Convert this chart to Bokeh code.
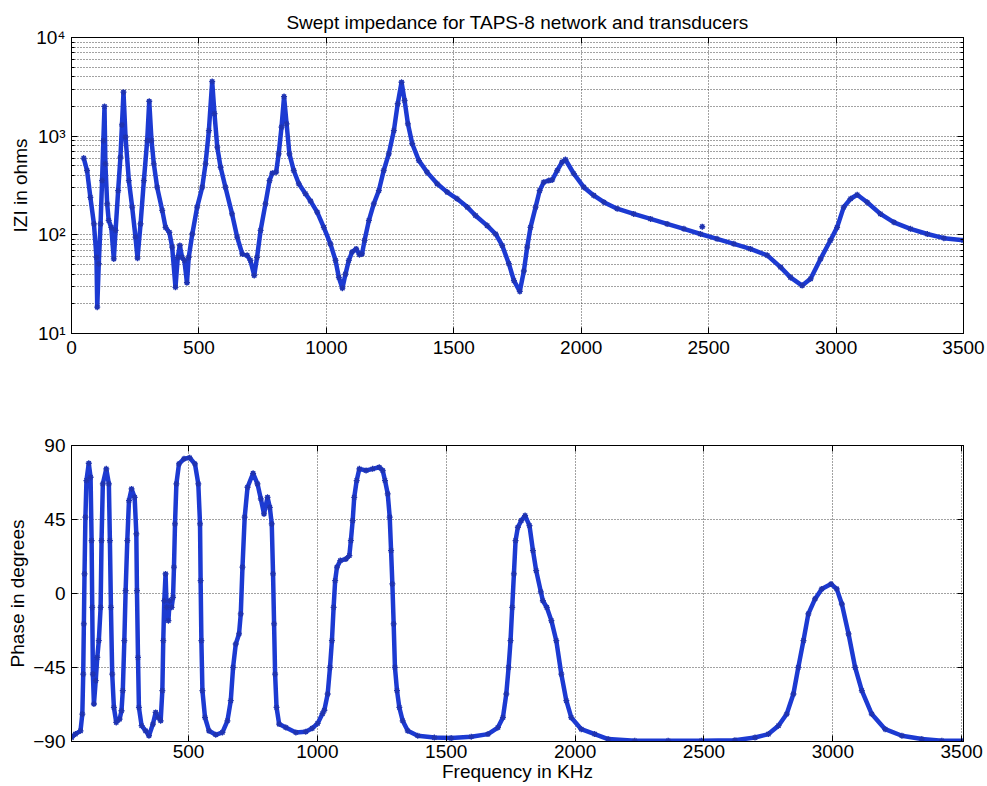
from bokeh.plotting import figure
from bokeh.layouts import column
from bokeh.models import Range1d, FixedTicker, LinearAxis, LogAxis, ColumnDataSource
from bokeh.embed import file_html
from bokeh.resources import INLINE

# ---------------- data ----------------
mag_freq = [48, 61, 74, 88, 98, 101, 107, 114, 120, 125, 129.5, 133, 140, 146, 156, 166, 173,
            183, 192, 198, 204, 212, 225, 238, 251, 259, 271, 284, 297, 305, 314, 323, 336,
            356, 369, 384, 395, 408, 417, 425, 434, 443, 453, 460, 474, 493, 513, 526, 539,
            552, 561, 572, 585, 604, 630, 650, 670, 689, 702, 717, 728, 742, 761, 777, 788,
            803, 813, 824, 834, 844, 855, 872, 892, 918, 938, 964, 990, 1016, 1036, 1049,
            1063, 1075, 1088, 1101, 1117, 1130, 1140, 1150, 1167, 1186, 1206, 1225, 1245,
            1265, 1280, 1295, 1307, 1320, 1337, 1363, 1395, 1435, 1474, 1513, 1553, 1585,
            1631, 1664, 1690, 1716, 1736, 1759, 1775, 1788, 1801, 1821, 1837, 1853, 1873,
            1886, 1906, 1925, 1938, 1971, 2010, 2049, 2089, 2141, 2206, 2272, 2337, 2403,
            2468, 2533, 2599, 2664, 2730, 2782, 2821, 2867, 2900, 2939, 2978, 3004, 3030,
            3057, 3083, 3122, 3174, 3227, 3292, 3358, 3423, 3500]
mag_ohms = [600, 449, 240, 129, 59, 18.5, 51, 129, 355, 900, 2000, 525, 206, 140, 119, 57, 111,
            281, 612, 1300, 2790, 977, 355, 191, 95, 58, 129, 355, 903, 2260, 903, 525, 304,
            177, 119, 106, 75, 29.4, 59, 78, 59, 55, 32.7, 59, 102, 191, 304, 525, 1140,
            3580, 1690, 773, 484, 304, 163, 95, 64, 62, 55, 38.7, 59, 111, 206, 355, 422,
            432, 662, 1233, 2520, 1333, 662, 449, 329, 261, 220, 170, 119, 81, 55, 37,
            28.8, 40, 55, 67, 72, 63, 64, 88, 140, 206, 281, 449, 662,
            1140, 2130, 3520, 2300, 1333, 838, 566, 432, 329, 271, 232, 191, 157,
            124, 102, 78, 51, 34.4, 26.7, 43, 75, 119, 191, 281, 342, 355,
            360, 449, 545, 580, 416, 304, 251, 214, 184, 163, 145, 129, 115,
            102, 91, 81, 72, 62, 47, 37, 30.6, 35.8, 57, 88, 119, 191,
            232, 255, 214, 163, 134, 115, 102, 92.5, 88]
mag_stray_freq = [2475]
mag_stray_ohms = [121]

phase_freq = [46, 61, 81, 88, 91.5, 94, 96.5, 100, 104, 113, 120, 124, 126.5, 129, 133, 140,
              146, 152, 159, 162.6, 167.6, 181, 191, 195, 199, 204, 210.5, 219.6, 232.6, 240,
              245, 251, 256, 262.5, 269, 279, 291, 297.5, 300, 304, 307.6, 318, 333.6, 346.5,
              362, 372.5, 383, 392, 398.5, 402, 406, 411, 415, 422, 427, 434.6, 440, 443.6,
              447.6, 453, 463, 482.5, 504.6, 525, 538, 544.7, 547, 550, 554, 564, 579.6,
              605.7, 631.7, 651, 664, 673, 683.4, 696, 702.8, 709.4, 718, 729, 750.6, 767.6,
              780.5, 793, 806.6, 815.5, 823, 828, 832, 836, 841.6, 851.7, 877.7, 916.6, 955,
              980, 1001, 1020, 1027, 1040, 1049, 1056.5, 1063, 1069, 1076, 1089, 1111, 1124,
              1130, 1137, 1143, 1152.5, 1163, 1189, 1214.6, 1240, 1253.5, 1262.5, 1273,
              1280.7, 1286, 1291, 1296, 1301, 1309, 1318, 1331, 1350.7, 1389.5, 1454, 1519,
              1597, 1662, 1700.5, 1720, 1733, 1742, 1749.5, 1756, 1762.6, 1769, 1778, 1791,
              1806, 1823, 1836.5, 1849, 1867, 1875, 1890, 1908, 1927, 1946.5, 1966, 1985,
              2024, 2076, 2128, 2231.5, 2361, 2490, 2620, 2698, 2750, 2789, 2821, 2847, 2866,
              2886, 2905, 2931, 2957, 2993, 3015, 3035, 3061, 3086.5, 3112.5, 3151, 3203,
              3268, 3345.6, 3423, 3507]
phase_deg = [-87.6, -85.5, -83.5, -73.3, -49, -18.5, 11.9, 46.4, 68.7, 79.2, 70.7, 32.2, -8.4,
             -49, -67.2, -53, -38.9, -28.7, -8.4, 32.2, 66.7, 75.8, 66.7, 32.2, -8.4, -49,
             -69.3, -78.4, -76.4, -71.3, -59.1, -28.7, 1.7, 32.2, 56.5, 63.6, 58.5, 36.2, 1.7,
             -38.9, -69.3, -80.4, -83.5, -86.5, -79.4, -72.3, -75.4, -77.4, -59.1, -28.7,
             -4.4, 11.9, -8.4, -16.5, -4.4, -8.4, -2.3, 16, 42.3, 66.7, 78.8, 81.9, 82.5,
             78.8, 66.7, 42.3, 7.8, -28.7, -59.1, -75.4, -83.5, -85.9, -84.5, -77.4, -65.2,
             -44.9, -30.7, -24.6, -12.4, 16, 46.4, 64.6, 73.1, 66.7, 57.6, 48.4, 58.5, 52.4,
             42.3, 11.9, -18.5, -49, -69.3, -79.4, -81.5, -84.5, -84, -82, -79, -73, -71,
             -61.1, -44.9, -28.7, -8.4, 7.8, 16, 20, 21, 23, 32.2, 44.3, 58.5, 68.7, 75.8,
             74.8, 75.8, 76.8, 74.8, 68.7, 60.6, 46.4, 26.1, 5.8, -18.5, -44.9, -59.1, -69.3,
             -77.4, -83.5, -86.5, -87.6, -87.9, -87.1, -85.5, -81.5, -75.4, -61.1, -44.9,
             -28.7, -8.4, 11.9, 32.2, 40.3, 44.3, 47.4, 41.3, 26.1, 13.9, 1, -4.4, -8.4,
             -16.5, -28.7, -49, -65.2, -75.4, -82.5, -85.5, -88.5, -89.6, -89.6, -89.6,
             -89.2, -87.6, -85.5, -80.4, -73.3, -61.1, -44.9, -28.7, -12.4, -3.3, 2.8, 5.8,
             2.8, -6.4, -24.6, -44.9, -59.1, -73.3, -82.5, -86.5, -88.5, -89.6, -89.6]

x_ticks = [0, 500, 1000, 1500, 2000, 2500, 3000, 3500]
mag_ticks = [10, 100, 1000, 10000]
mag_tick_labels = ["10\u00b9", "10\u00b2", "10\u00b3", "10\u2074"]
mag_minor_ticks = [m * d for d in (10, 100, 1000) for m in range(2, 10)]
phase_ticks = [-90, -45, 0, 45, 90]

title_text = "Swept impedance for TAPS-8 network and transducers"
mag_label = "IZI in ohms"
phase_label = "Phase in degrees"
freq_label = "Frequency in KHz"

# ---------------- style ----------------
FONT = "Liberation Sans"
FS = "19px"
BAND = "#1c3ad2"
MARK = "#1f33b0"
GRID = "#444444"
DASH = "1 2"


def style_axis(ax, labels=True, standoff=4):
    ax.major_tick_in = 6
    ax.major_tick_out = 0
    ax.minor_tick_in = 3
    ax.minor_tick_out = 0
    ax.axis_line_color = "black"
    ax.major_tick_line_color = "black"
    ax.minor_tick_line_color = "black"
    ax.major_label_text_font = FONT
    ax.axis_label_text_font = FONT
    ax.axis_label_text_font_size = FS
    ax.axis_label_text_font_style = "normal"
    ax.axis_label_text_color = "black"
    if labels:
        ax.major_label_text_color = "black"
        ax.major_label_text_font_size = FS
        ax.major_label_standoff = standoff
    else:
        # tick marks only: labels are not drawn
        ax.major_label_text_color = None
        ax.major_label_text_font_size = "1px"
        ax.major_label_standoff = 0


def style_fig(p):
    p.outline_line_color = "black"
    p.outline_line_width = 1
    p.background_fill_color = "white"
    p.border_fill_color = "white"
    for g in (p.xgrid[0], p.ygrid[0]):
        g.grid_line_color = GRID
        g.grid_line_dash = DASH
        g.grid_line_width = 1


# ---------------- top: magnitude ----------------
src_mag = ColumnDataSource(dict(f=mag_freq, z=mag_ohms))
src_stray = ColumnDataSource(dict(f=mag_stray_freq, z=mag_stray_ohms))

p1 = figure(width=987, height=400, y_axis_type="log",
            x_range=Range1d(0, 3500), y_range=Range1d(10, 10000),
            output_backend="svg", toolbar_location=None, title=title_text,
            min_border_left=71, min_border_right=24, min_border_top=37, min_border_bottom=67)
p1.title.align = "center"
p1.title.text_font = FONT
p1.title.text_font_size = FS
p1.title.text_font_style = "normal"
p1.title.text_color = "black"
p1.title.standoff = 10
style_fig(p1)

p1.xaxis.ticker = FixedTicker(ticks=x_ticks)
p1.yaxis.ticker = FixedTicker(ticks=mag_ticks, minor_ticks=mag_minor_ticks)
p1.yaxis.major_label_overrides = dict(zip(mag_ticks, mag_tick_labels))
p1.yaxis.axis_label = mag_label
p1.yaxis.axis_label_standoff = 2
style_axis(p1.xaxis[0], standoff=7)
style_axis(p1.yaxis[0], standoff=6)
p1.xaxis.minor_tick_line_color = None
p1.ygrid.minor_grid_line_color = GRID
p1.ygrid.minor_grid_line_dash = DASH

ax_top1 = LinearAxis(ticker=FixedTicker(ticks=x_ticks))
style_axis(ax_top1, labels=False)
ax_top1.minor_tick_line_color = None
p1.add_layout(ax_top1, "above")
ax_right1 = LogAxis(ticker=FixedTicker(ticks=mag_ticks, minor_ticks=mag_minor_ticks))
style_axis(ax_right1, labels=False)
p1.add_layout(ax_right1, "right")

p1.line("f", "z", source=src_mag, line_color=BAND, line_width=4.5, line_join="round")
p1.scatter("f", "z", source=src_mag, marker="asterisk", size=6, line_color=MARK, line_width=1.3)
p1.scatter("f", "z", source=src_stray, marker="asterisk", size=6, line_color=MARK, line_width=1.5)

# ---------------- bottom: phase ----------------
src_ph = ColumnDataSource(dict(f=phase_freq, ph=phase_deg))

p2 = figure(width=987, height=386,
            x_range=Range1d(46, 3507), y_range=Range1d(-90, 90),
            output_backend="svg", toolbar_location=None,
            min_border_left=71, min_border_right=24, min_border_top=45, min_border_bottom=45)
style_fig(p2)
p2.xaxis.ticker = FixedTicker(ticks=x_ticks)
p2.yaxis.ticker = FixedTicker(ticks=phase_ticks)
p2.xaxis.axis_label = freq_label
p2.yaxis.axis_label = phase_label
p2.xaxis.axis_label_standoff = 0
p2.yaxis.axis_label_standoff = 2
style_axis(p2.xaxis[0], standoff=3)
style_axis(p2.yaxis[0], standoff=6)
p2.xaxis.minor_tick_line_color = None
p2.yaxis.minor_tick_line_color = None

ax_top2 = LinearAxis(ticker=FixedTicker(ticks=x_ticks))
style_axis(ax_top2, labels=False)
ax_top2.minor_tick_line_color = None
p2.add_layout(ax_top2, "above")
ax_right2 = LinearAxis(ticker=FixedTicker(ticks=phase_ticks))
style_axis(ax_right2, labels=False)
ax_right2.minor_tick_line_color = None
p2.add_layout(ax_right2, "right")

p2.line("f", "ph", source=src_ph, line_color=BAND, line_width=4.5, line_join="round")
p2.scatter("f", "ph", source=src_ph, marker="asterisk", size=6, line_color=MARK, line_width=1.3)

layout = column(p1, p2, spacing=0)
open("out.html", "w").write(file_html(layout, INLINE))
